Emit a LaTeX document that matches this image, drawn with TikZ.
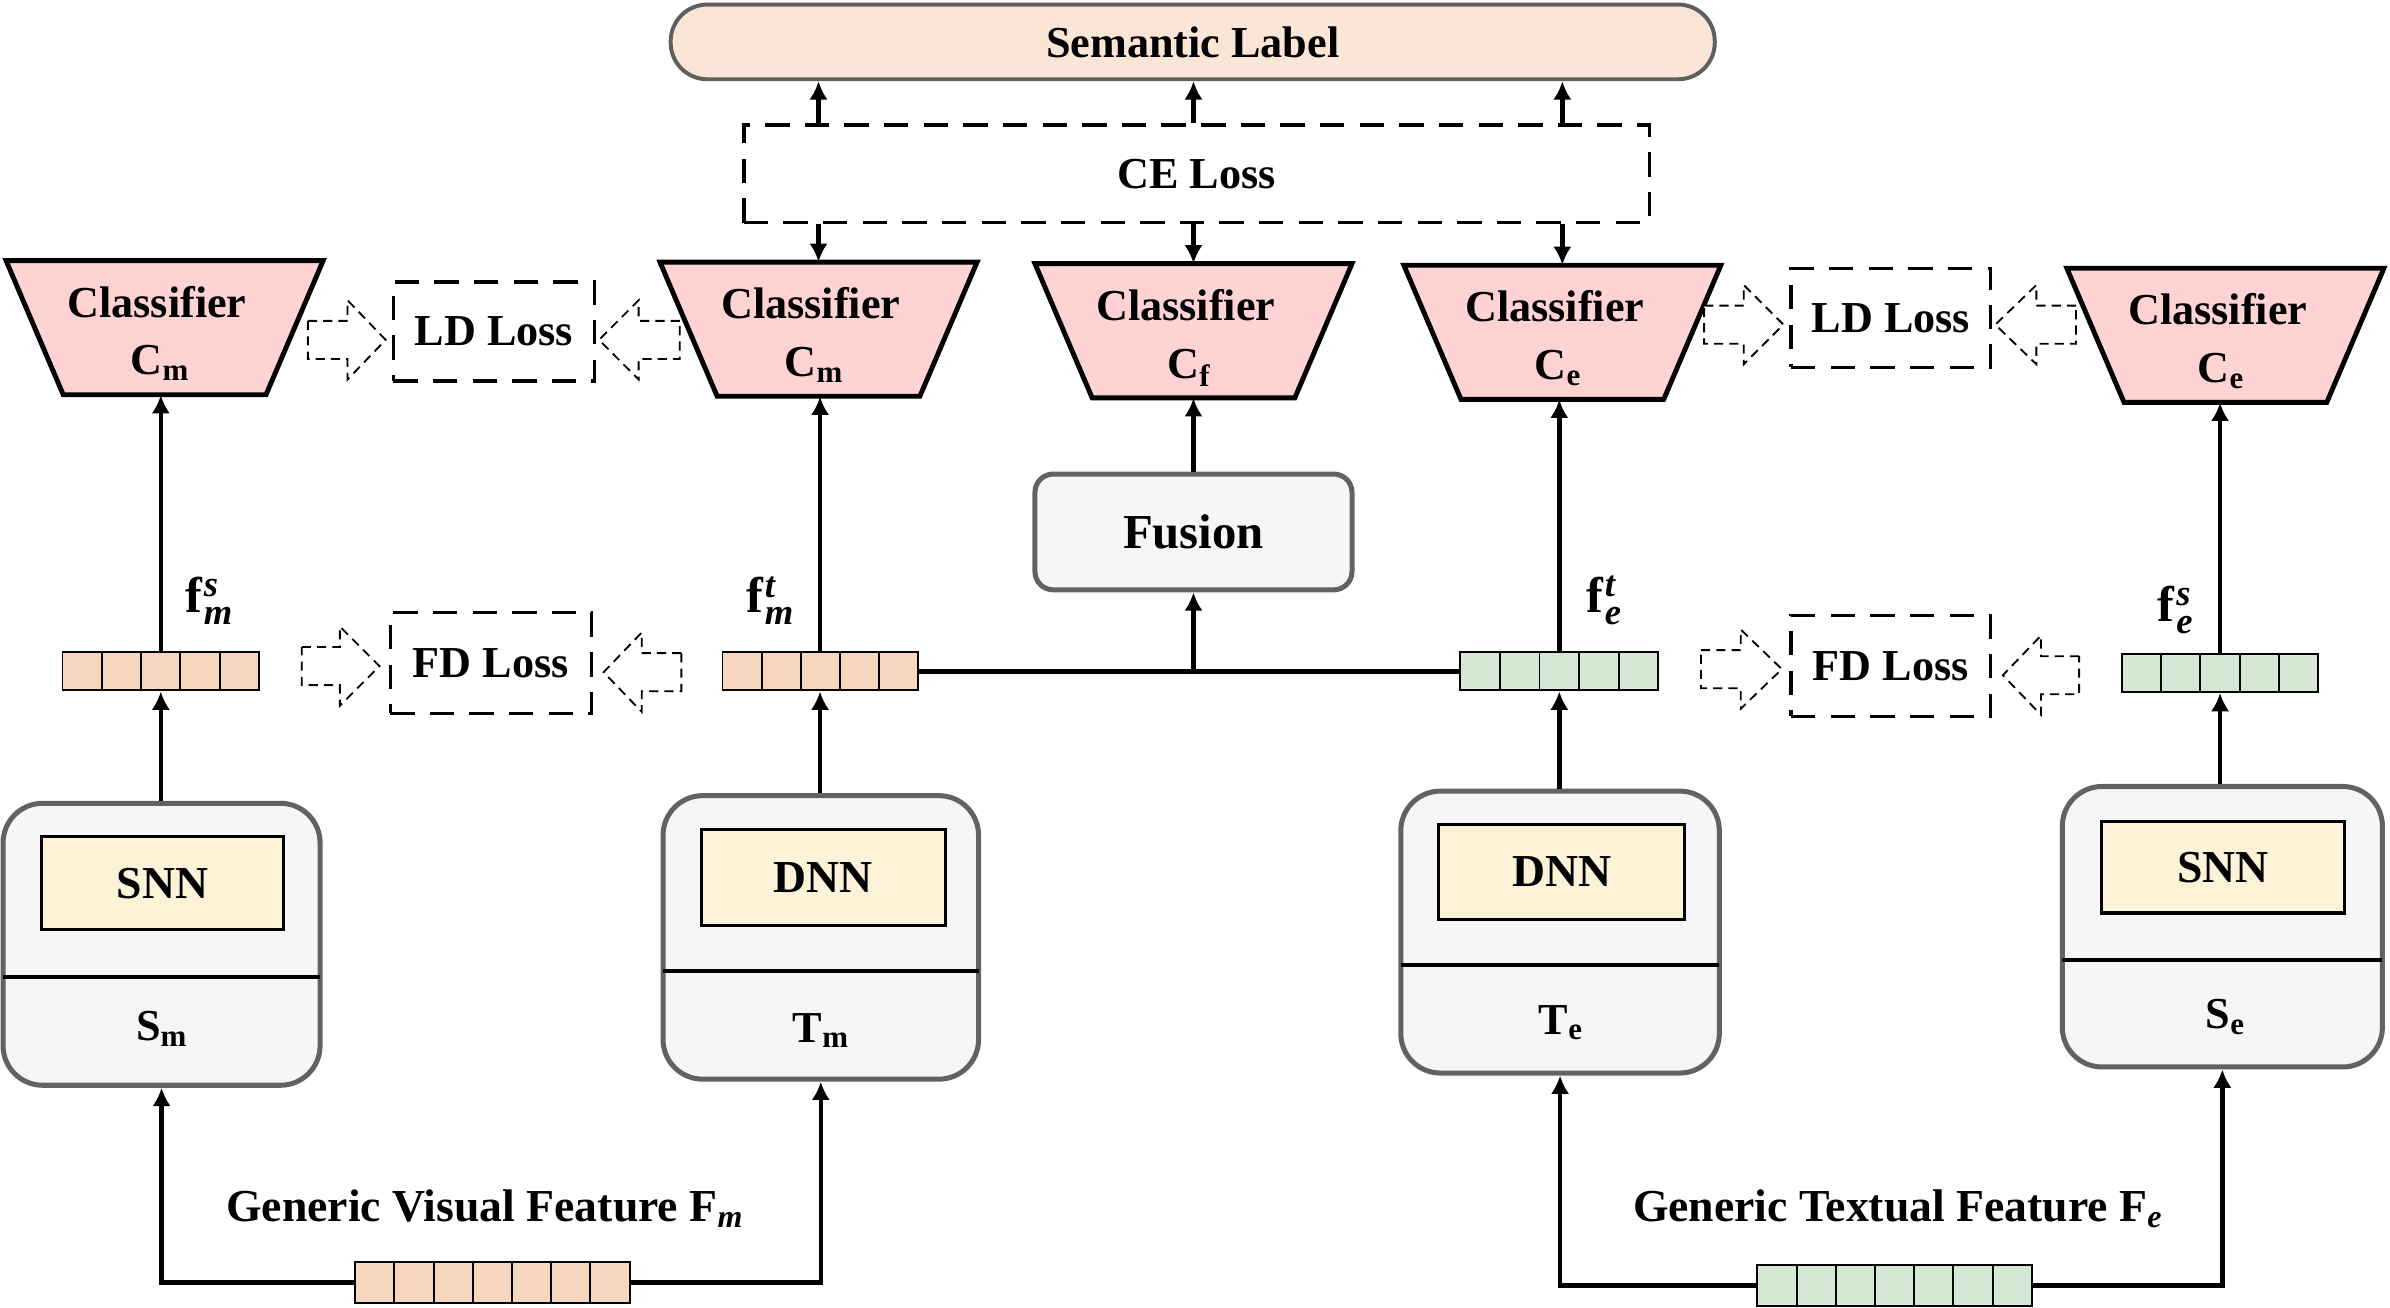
\documentclass[tikz,border=0pt]{standalone}
\usepackage{fontspec}
\setmainfont{Liberation Serif}
\usepackage{amsmath}
\usetikzlibrary{arrows.meta,calc}
\definecolor{sempeach}{HTML}{FBE5D6}
\definecolor{semgray}{HTML}{5F5F5F}
\definecolor{clfpink}{HTML}{FFD3D3}
\definecolor{vecpeach}{HTML}{F6D6BE}
\definecolor{vecgreen}{HTML}{D5E8D4}
\definecolor{modfill}{HTML}{F6F6F6}
\definecolor{modgray}{HTML}{626262}
\definecolor{innerfill}{HTML}{FCF2D8}
\newcommand{\clsf}[4]{%
  \draw[clfshape] (#2-104,#3) -- (#2+104,#3) -- (#2+66.5,#3+88) -- (#2-66.5,#3+88) -- cycle;
  \node[inner sep=0, minimum width=208pt, minimum height=88pt] (#1) at (#2,#3+44) {};
  \node[lbl, anchor=base] (#1t) at (#2-5,#3+37) {Classifier};
  \node[lbl, anchor=base] (#1s) at (#2-3,#3+75) {C$_{\textbf{#4}}$};
}
\newcommand{\vecbar}[7]{%
  \node[vecb, fill=#7, minimum width={#4-#2}, minimum height={#5-#3}] (#1) at ({(#2+#4)/2},{(#3+#5)/2}) {};
  \pgfmathtruncatemacro\ncellsm{#6-1}
  \foreach \k in {1,...,\ncellsm} \draw[line width=1.3pt] ({#2+\k*(#4-#2)/#6},#3) -- ({#2+\k*(#4-#2)/#6},#5);
}
\newcommand{\blkarrow}[4]{%
  \draw[blk] (#1,#4-12.5) -- (#2,#4-12.5) -- (#2,#4-26) -- (#3,#4) -- (#2,#4+26) -- (#2,#4+12.5) -- (#1,#4+12.5) -- cycle;
}
\newcommand{\flab}[2]{\textbf{f}\kern1pt\raisebox{-8pt}{\vbox{\fontsize{24}{18}\selectfont\bfseries\itshape\baselineskip=18pt\lineskiplimit=-20pt\hbox{#1}\hbox{#2}}}}
\begin{document}
\begin{tikzpicture}[x=1pt,y=-1pt,
  lbl/.style={font=\fontsize{29}{34}\selectfont\bfseries, inner sep=0},
  flbl/.style={font=\fontsize{33}{36}\selectfont\bfseries, inner sep=0},
  arr/.style={line width=3pt, -{Latex[length=12pt,width=12pt]}},
  conn/.style={line width=3pt},
  dbox/.style={draw, line width=2.2pt, dash pattern=on 16pt off 10pt, inner sep=0, font=\fontsize{29}{34}\selectfont\bfseries},
  blk/.style={draw, line width=1.2pt, dash pattern=on 6pt off 4pt, fill=white, line join=miter},
  clfshape/.style={draw, line width=3.2pt, fill=clfpink, line join=miter},
  module/.style={draw=modgray, line width=3.3pt, fill=modfill, rounded corners=26pt, inner sep=0},
  inbox/.style={draw=black, line width=2pt, fill=innerfill, inner sep=0, font=\fontsize{30}{34}\selectfont\bfseries},
  divl/.style={line width=2.4pt},
  vecb/.style={draw=black, line width=1.3pt, inner sep=0}
]
\useasboundingbox (0,0) rectangle (1568,858);

% Semantic label and CE loss
\node[draw=semgray, line width=2.6pt, fill=sempeach, rounded corners=24pt, minimum width=685pt, minimum height=49pt, inner sep=0, font=\fontsize{29}{34}\selectfont\bfseries] (sem) at (782.5,27.5) {Semantic Label};
\node[dbox, minimum width=594pt, minimum height=64pt] (ce) at (785,114) {CE Loss};

% Classifiers
\clsf{c1}{108}{171}{m}
\clsf{c2}{537}{172}{m}
\clsf{c3}{783}{173}{f}
\clsf{c4}{1025}{174}{e}
\clsf{c5}{1460}{176}{e}

% LD / FD loss boxes
\node[dbox, minimum width=132pt, minimum height=65pt] (ldl) at (324,217.5) {LD Loss};
\node[dbox, minimum width=131pt, minimum height=65pt] (ldr) at (1240.5,208.5) {LD Loss};
\node[dbox, minimum width=132pt, minimum height=66pt] (fdl) at (322,435) {FD Loss};
\node[dbox, minimum width=131pt, minimum height=66pt] (fdr) at (1240.5,437) {FD Loss};

% block arrows
\blkarrow{202}{228}{253}{223}
\blkarrow{446}{419}{393}{223}
\blkarrow{1118}{1144}{1170}{213}
\blkarrow{1362}{1336}{1309}{213}
\blkarrow{198}{223}{249}{437}
\blkarrow{447}{421}{396}{441}
\blkarrow{1116}{1142}{1169}{439}
\blkarrow{1364}{1339}{1314}{443}

% Fusion
\node[draw=modgray, line width=3.3pt, fill=modfill, rounded corners=12pt, minimum width=208pt, minimum height=76pt, inner sep=0, font=\fontsize{32}{36}\selectfont\bfseries] (fus) at (783,349) {Fusion};

% feature vectors
\vecbar{v1}{41}{428}{170}{453}{5}{vecpeach}
\vecbar{v2}{474}{428}{602}{453}{5}{vecpeach}
\vecbar{v3}{958}{428}{1088}{453}{5}{vecgreen}
\vecbar{v4}{1392}{429}{1521}{454}{5}{vecgreen}
\vecbar{vm}{233}{828}{413}{855}{7}{vecpeach}
\vecbar{ve}{1153}{830}{1333}{857}{7}{vecgreen}

% feature labels
\node[flbl] (lfms) at (137,394) {\flab{s}{m}};
\node[flbl] (lfmt) at (505,394) {\flab{t}{m}};
\node[flbl] (lfet) at (1052,394) {\flab{t}{e}};
\node[flbl] (lfes) at (1427,400) {\flab{s}{e}};

% modules
\node[module, minimum width=208pt, minimum height=185pt] (sm) at (106,619.5) {};
\draw[divl] (2,641) -- (210,641);
\node[inbox, minimum width=159pt, minimum height=61pt] (smi) at (106.5,579.5) {SNN};
\node[lbl] (sml) at (106,675) {S$_{\textbf{m}}$};

\node[module, minimum width=207pt, minimum height=186pt] (tm) at (538.5,615) {};
\draw[divl] (435,637) -- (642,637);
\node[inbox, minimum width=160pt, minimum height=63pt] (tmi) at (540,575.5) {DNN};
\node[lbl] (tml) at (538.5,676) {T$_{\textbf{m}}$};

\node[module, minimum width=209pt, minimum height=185pt] (te) at (1023.5,611.5) {};
\draw[divl] (919,633) -- (1128,633);
\node[inbox, minimum width=161pt, minimum height=62pt] (tei) at (1024.5,572) {DNN};
\node[lbl] (tel) at (1024,671) {T$_{\textbf{e}}$};

\node[module, minimum width=210pt, minimum height=184pt] (se) at (1458,608) {};
\draw[divl] (1353,630) -- (1563,630);
\node[inbox, minimum width=159pt, minimum height=60pt] (sei) at (1458.5,569) {SNN};
\node[lbl] (sel) at (1460,667) {S$_{\textbf{e}}$};

% generic features labels
\node[lbl, font=\fontsize{30}{34}\selectfont\bfseries] (gvf) at (318,793) {Generic Visual Feature F$_{\textbf{\textit{m}}}$};
\node[lbl, font=\fontsize{30}{34}\selectfont\bfseries] (gtf) at (1245,793) {Generic Textual Feature F$_{\textbf{\textit{e}}}$};

% connectors: input to modules
\draw[arr] (vm.west) -| (sm.south);
\draw[arr] (vm.east) -| (tm.south);
\draw[arr] (ve.west) -| (te.south);
\draw[arr] (ve.east) -| (se.south);

% modules to vectors
\draw[arr] (v1.south |- sm.north) -- (v1.south);
\draw[arr] (v2.south |- tm.north) -- (v2.south);
\draw[arr] (v3.south |- te.north) -- (v3.south);
\draw[arr] (v4.south |- se.north) -- (v4.south);

% vectors to classifiers
\draw[arr] (v1.north) -- (v1.north |- c1.south);
\draw[arr] (v2.north) -- (v2.north |- c2.south);
\draw[arr] (v3.north) -- (v3.north |- c4.south);
\draw[arr] (v4.north) -- (v4.north |- c5.south);

% fusion
\draw[conn] (v2.east) -- (v3.west);
\draw[arr] (fus.south |- v2.east) -- (fus.south);
\draw[arr] (fus.north) -- (fus.north |- c3.south);

% CE loss connections
\draw[arr] (c2.north |- ce.south) -- (c2.north);
\draw[arr] (c3.north |- ce.south) -- (c3.north);
\draw[arr] (c4.north |- ce.south) -- (c4.north);
\draw[arr] (c2.north |- ce.north) -- (c2.north |- sem.south);
\draw[arr] (c3.north |- ce.north) -- (c3.north |- sem.south);
\draw[arr] (c4.north |- ce.north) -- (c4.north |- sem.south);
\end{tikzpicture}
\end{document}
